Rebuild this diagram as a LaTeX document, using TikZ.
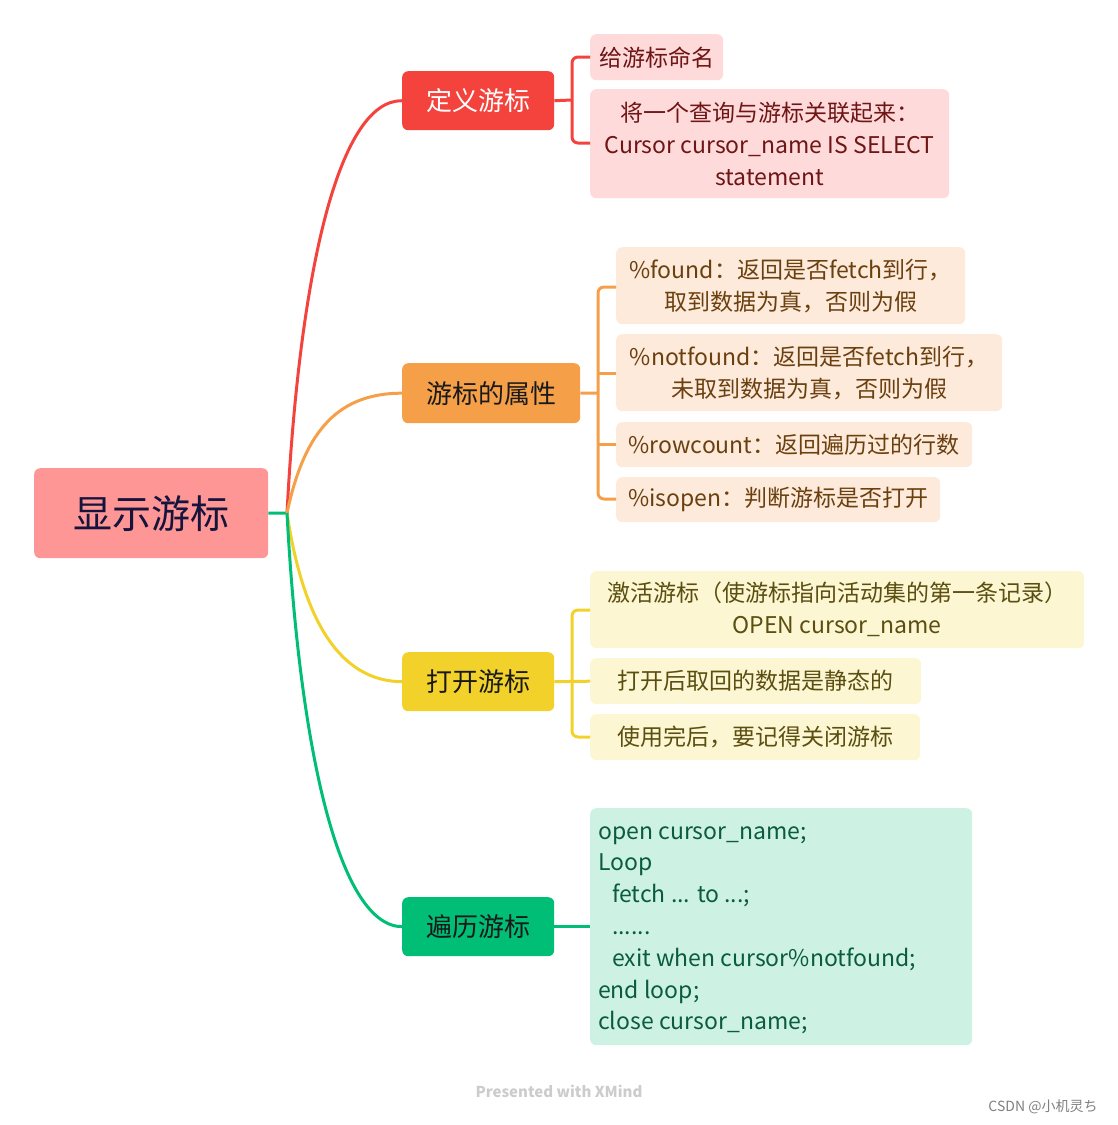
\documentclass[tikz,border=0pt]{standalone}
\usepackage{fontspec}
\setmainfont{Noto Sans CJK SC}
\definecolor{rootfill}{HTML}{FF9696}
\definecolor{roottext}{HTML}{14143C}
\definecolor{cred}{HTML}{F4433C}
\definecolor{corange}{HTML}{F5A049}
\definecolor{cyellow}{HTML}{F2D22A}
\definecolor{cgreen}{HTML}{00BE76}
\definecolor{sred}{HTML}{FFDADA}
\definecolor{tred}{HTML}{6E1515}
\definecolor{sorange}{HTML}{FDEADB}
\definecolor{torange}{HTML}{6B400F}
\definecolor{syellow}{HTML}{FCF6D2}
\definecolor{tyellow}{HTML}{5A4E10}
\definecolor{sgreen}{HTML}{CDF2E4}
\definecolor{tgreen}{HTML}{0A5C3B}
\newcommand{\ind}{\hspace*{14pt}}
\tikzset{
  box/.style={rectangle,rounded corners=6pt,inner sep=0pt,anchor=north west,align=center},
  topic/.style={box,font=\fontsize{26}{32}\selectfont},
  sub/.style={box,font=\fontsize{23}{32}\selectfont},
  conn/.style={line width=3pt},
}
\begin{document}
\begin{tikzpicture}[x=1pt,y=-1pt]
\useasboundingbox (0,0) rectangle (1118,1125);
% root
\node[box,fill=rootfill,text=roottext,minimum width=234pt,minimum height=90pt,font=\fontsize{39}{44}\selectfont] (root) at (34,468) {显示游标};
\coordinate (J) at (287,513);
% topics
\node[topic,fill=cred,text=white,minimum width=152pt,minimum height=59pt] (t1) at (402,71) {定义游标};
\node[topic,fill=corange,text=black!90,minimum width=178pt,minimum height=60pt] (t2) at (402,363) {游标的属性};
\node[topic,fill=cyellow,text=black!90,minimum width=152pt,minimum height=59pt] (t3) at (402,652) {打开游标};
\node[topic,fill=cgreen,text=black!90,minimum width=152pt,minimum height=59pt] (t4) at (402,897) {遍历游标};
% root connectors
\draw[conn,cgreen] (root.east) -- (J);
\draw[conn,cred] (J) .. controls (300,265) and (340,100) .. (t1.west);
\draw[conn,corange] (J) .. controls (303,438) and (333,393) .. (t2.west);
\draw[conn,cyellow] (J) .. controls (300,600) and (330,681) .. (t3.west);
\draw[conn,cgreen] (J) .. controls (300,755) and (340,926) .. (t4.west);
% red subs
\node[sub,fill=sred,text=tred,minimum width=133pt,minimum height=46pt] (r1) at (590,34) {给游标命名};
\node[sub,fill=sred,text=tred,minimum width=359pt,minimum height=109pt] (r2) at (590,89) {将一个查询与游标关联起来：\\Cursor cursor\_name IS SELECT\\statement};
\coordinate (rb) at (572,100);
\draw[conn,cred] (t1.east) -- (rb);
\draw[conn,cred,rounded corners=6pt] (590,57) -- (572,57) -- (572,143) -- (590,143);
% orange subs
\node[sub,fill=sorange,text=torange,minimum width=349pt,minimum height=77pt] (o1) at (616,247) {\%found：返回是否fetch到行，\\取到数据为真，否则为假};
\node[sub,fill=sorange,text=torange,minimum width=386pt,minimum height=77pt] (o2) at (616,334) {\%notfound：返回是否fetch到行，\\未取到数据为真，否则为假};
\node[sub,fill=sorange,text=torange,minimum width=356pt,minimum height=45pt] (o3) at (616,422) {\%rowcount：返回遍历过的行数};
\node[sub,fill=sorange,text=torange,minimum width=324pt,minimum height=45pt] (o4) at (616,477) {\%isopen：判断游标是否打开};
\coordinate (ob) at (598,393);
\draw[conn,corange] (t2.east) -- (ob);
\draw[conn,corange,rounded corners=6pt] (616,287) -- (598,287) -- (598,499) -- (616,499);
\draw[conn,corange] (598,373) -- (616,373);
\draw[conn,corange] (598,444) -- (616,444);
% yellow subs
\node[sub,fill=syellow,text=tyellow,minimum width=494pt,minimum height=77pt] (y1) at (590,571) {激活游标（使游标指向活动集的第一条记录）\\OPEN cursor\_name};
\node[sub,fill=syellow,text=tyellow,minimum width=331pt,minimum height=46pt] (y2) at (590,658) {打开后取回的数据是静态的};
\node[sub,fill=syellow,text=tyellow,minimum width=330pt,minimum height=46pt] (y3) at (590,714) {使用完后，要记得关闭游标};
\draw[conn,cyellow] (t3.east) -- (y2.west);
\draw[conn,cyellow,rounded corners=6pt] (590,610) -- (572,610) -- (572,737) -- (590,737);
% green sub
\node[sub,fill=sgreen,minimum width=382pt,minimum height=237pt] (g1) at (590,808) {};
\node[anchor=north west,inner sep=0pt,align=left,text=tgreen,font=\fontsize{23}{31.8}\selectfont] (g1t) at (598,826) {open cursor\_name;\\Loop\\\ind fetch ... to ...;\\\ind ......\\\ind exit when cursor\%notfound;\\end loop;\\close cursor\_name;};
\draw[conn,cgreen] (t4.east) -- (t4.east -| g1.west);
% watermarks
\node[text=black!20,font=\bfseries\fontsize{15}{18}\selectfont] (wm) at (559,1091) {Presented with XMind};
\node[text=black!50,font=\fontsize{14}{16}\selectfont] (csdn) at (1043,1107) {CSDN @小机灵ち};
\end{tikzpicture}
\end{document}
